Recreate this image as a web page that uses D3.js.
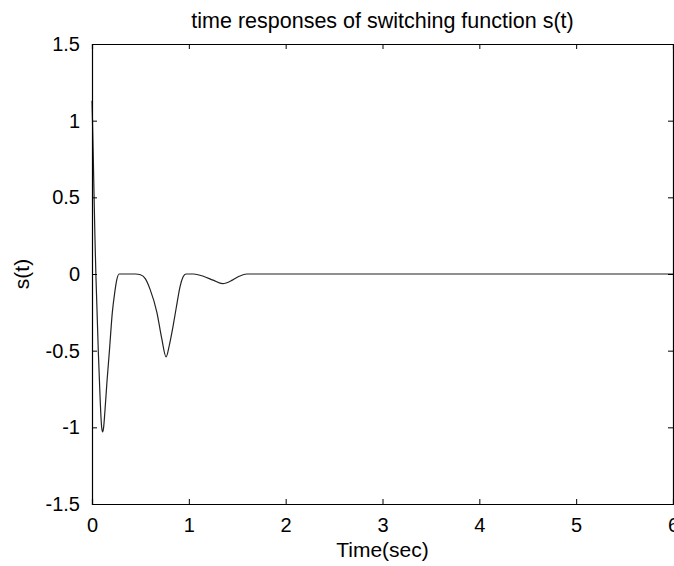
<!DOCTYPE html>
<html>
<head>
<meta charset="utf-8">
<script src="https://cdn.jsdelivr.net/npm/d3@7"></script>
<style>
  body { margin: 0; background: #fff; }
  svg { font-family: "Liberation Sans", Arial, sans-serif; }
</style>
</head>
<body>
<div id="chart"></div>
<script>
// time (sec) and s(t)
const timeValues = [0, 0.005, 0.012, 0.02, 0.03, 0.04, 0.05, 0.065, 0.08, 0.09, 0.1, 0.11,
    0.12, 0.135, 0.155, 0.18, 0.21, 0.235, 0.255, 0.28, 0.35, 0.45, 0.5, 0.55, 0.6, 0.67,
    0.72, 0.765, 0.8, 0.84, 0.87, 0.91, 0.94, 0.97, 1.05, 1.15, 1.25, 1.35, 1.45, 1.52, 1.6, 6];
const sValues = [1.13, 1.0, 0.8, 0.55, 0.25, 0, -0.2, -0.5, -0.75, -0.9, -1.0, -1.03,
    -1.0, -0.88, -0.7, -0.5, -0.25, -0.12, -0.04, 0, 0, 0, -0.005, -0.03, -0.1, -0.25,
    -0.42, -0.54, -0.46, -0.33, -0.22, -0.08, -0.02, 0, 0, -0.015, -0.04, -0.063, -0.04, -0.015, 0, 0];
const xTicks = [0, 1, 2, 3, 4, 5, 6];
const yTicks = [-1.5, -1, -0.5, 0, 0.5, 1, 1.5];

const width = 674, height = 566;
const margin = { top: 44, right: 1, bottom: 62, left: 92 };
const w = width - margin.left - margin.right;
const h = height - margin.top - margin.bottom;

const svg = d3.select('#chart').append('svg')
    .attr('width', width)
    .attr('height', height);

const g = svg.append('g')
    .attr('transform', `translate(${margin.left},${margin.top})`);

const x = d3.scaleLinear().domain([0, 6]).range([0, w]);
const y = d3.scaleLinear().domain([-1.5, 1.5]).range([h, 0]);

const data = timeValues.map((t, i) => ({ t: t, s: sValues[i] }));

// curve
g.append('path')
    .datum(data)
    .attr('fill', 'none')
    .attr('stroke', '#222')
    .attr('stroke-width', 1.2)
    .attr('d', d3.line()
        .x(d => x(d.t))
        .y(d => y(d.s))
        .curve(d3.curveMonotoneX));

// axes with inward ticks, box on all four sides
const fmt = d => String(d);

const xAxis = g.append('g')
    .attr('transform', `translate(0,${h})`)
    .call(d3.axisBottom(x).tickValues(xTicks).tickSize(-5).tickPadding(14).tickFormat(fmt));
const xTop = g.append('g')
    .call(d3.axisTop(x).tickValues(xTicks).tickSize(-5).tickFormat(''));
const yAxis = g.append('g')
    .call(d3.axisLeft(y).tickValues(yTicks).tickSize(-5).tickPadding(12).tickFormat(fmt));
const yRight = g.append('g')
    .attr('transform', `translate(${w},0)`)
    .call(d3.axisRight(y).tickValues(yTicks).tickSize(-5).tickFormat(''));

[xAxis, xTop, yAxis, yRight].forEach(a => {
    a.select('.domain').attr('stroke', '#000').attr('stroke-width', 1.2);
    a.selectAll('.tick line').attr('stroke', '#000');
    a.selectAll('.tick text')
        .attr('fill', '#000')
        .style('font-size', '20px')
        .style('font-family', '"Liberation Sans", Arial, sans-serif');
});

// title and axis labels
svg.append('text')
    .attr('x', margin.left + w / 2)
    .attr('y', 28)
    .attr('text-anchor', 'middle')
    .style('font-size', '21.5px')
    .text('time responses of switching function s(t)');

svg.append('text')
    .attr('x', margin.left + w / 2)
    .attr('y', 557)
    .attr('text-anchor', 'middle')
    .style('font-size', '21px')
    .text('Time(sec)');

svg.append('text')
    .attr('transform', `translate(29,${margin.top + h / 2}) rotate(-90)`)
    .attr('text-anchor', 'middle')
    .style('font-size', '21px')
    .text('s(t)');
</script>
</body>
</html>
